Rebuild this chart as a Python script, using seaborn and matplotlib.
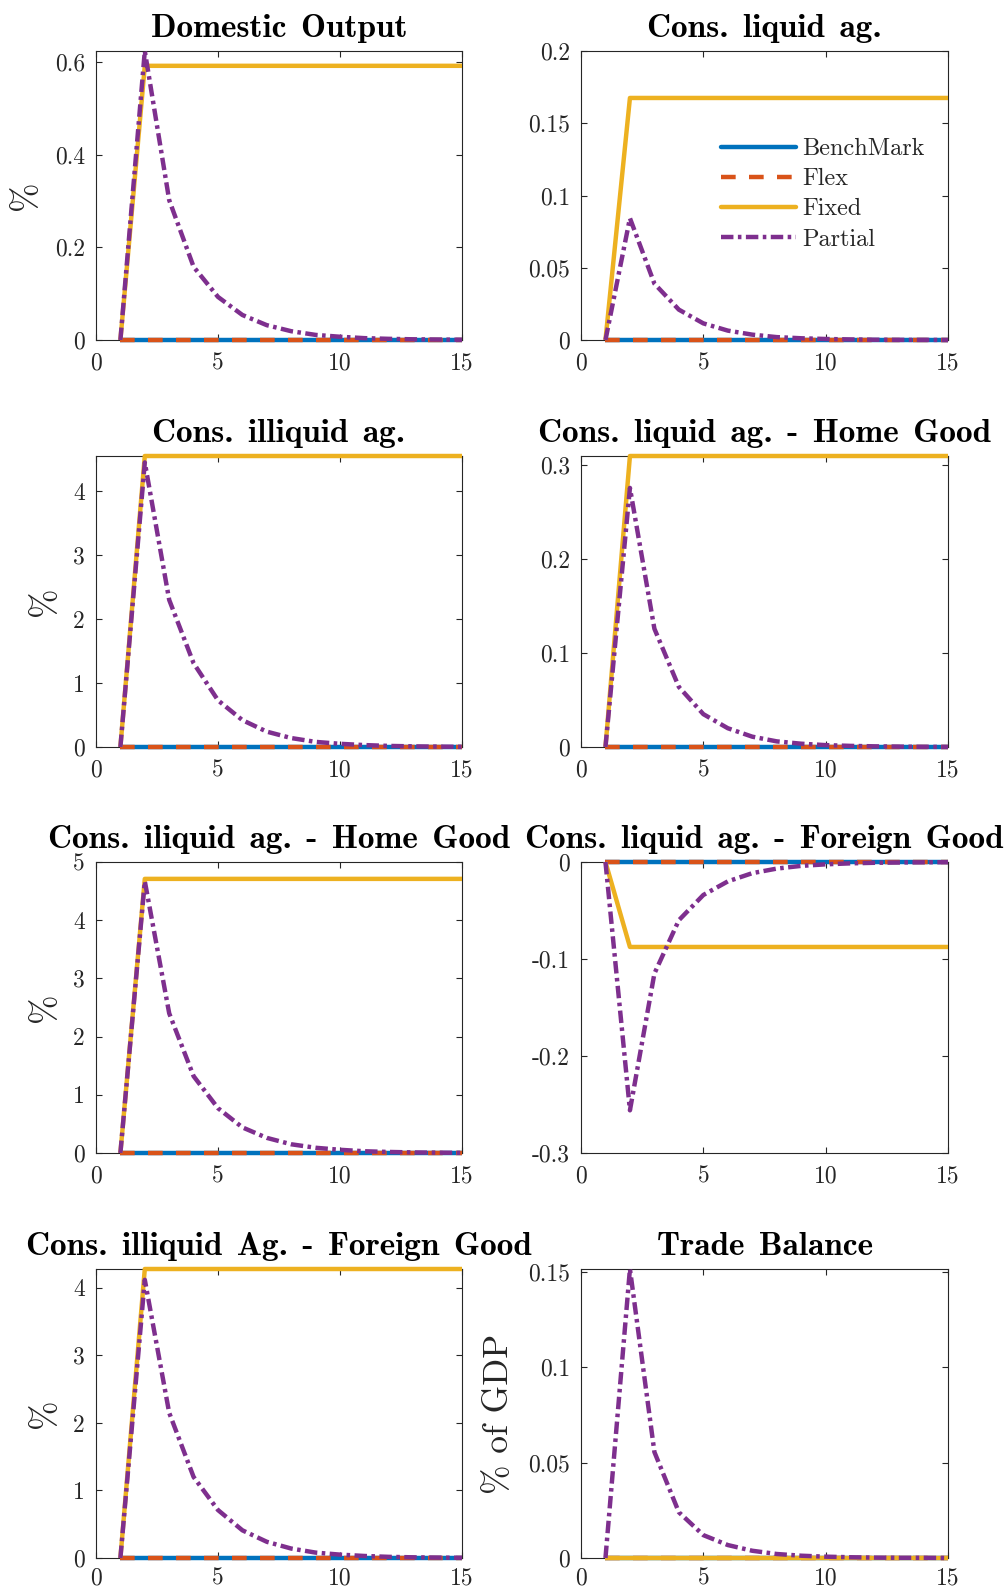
import numpy as np
import pandas as pd
import matplotlib
matplotlib.use("Agg")
import matplotlib.pyplot as plt
import seaborn as sns
from matplotlib.ticker import FixedLocator, FuncFormatter
from matplotlib.lines import Line2D

# ---------------- data ----------------
periods = list(range(1, 16))
series_names = ["BenchMark", "Flex", "Fixed", "Partial"]

titles = [
    "Domestic Output",
    "Cons. liquid ag.",
    "Cons. illiquid ag.",
    "Cons. liquid ag. - Home Good",
    "Cons. iliquid ag. - Home Good",
    "Cons. liquid ag. - Foreign Good",
    "Cons. illiquid Ag. - Foreign Good",
    "Trade Balance",
]
ylabels = ["%", "", "%", "", "%", "", "%", "% of GDP"]

benchmark = [0.0, 0.0, 0.0, 0.0, 0.0, 0.0, 0.0, 0.0, 0.0, 0.0, 0.0, 0.0, 0.0, 0.0, 0.0]
flex = [0.0, 0.0, 0.0, 0.0, 0.0, 0.0, 0.0, 0.0, 0.0, 0.0, 0.0, 0.0, 0.0, 0.0, 0.0]

fixed_output = [0.0, 0.592, 0.592, 0.592, 0.592, 0.592, 0.592, 0.592, 0.592, 0.592, 0.592, 0.592, 0.592, 0.592, 0.592]
partial_output = [0.0, 0.624, 0.302, 0.158, 0.093, 0.054, 0.032, 0.019, 0.011, 0.007, 0.004, 0.0025, 0.0015, 0.001, 0.0005]

fixed_liq = [0.0, 0.1675, 0.1675, 0.1675, 0.1675, 0.1675, 0.1675, 0.1675, 0.1675, 0.1675, 0.1675, 0.1675, 0.1675, 0.1675, 0.1675]
partial_liq = [0.0, 0.0843, 0.039, 0.021, 0.0115, 0.0065, 0.0037, 0.002, 0.0012, 0.0007, 0.0004, 0.0002, 0.0001, 0.0001, 0.0]

fixed_illiq = [0.0, 4.55, 4.55, 4.55, 4.55, 4.55, 4.55, 4.55, 4.55, 4.55, 4.55, 4.55, 4.55, 4.55, 4.55]
partial_illiq = [0.0, 4.45, 2.3, 1.31, 0.73, 0.42, 0.24, 0.14, 0.08, 0.05, 0.03, 0.017, 0.01, 0.006, 0.003]

fixed_liq_home = [0.0, 0.31, 0.31, 0.31, 0.31, 0.31, 0.31, 0.31, 0.31, 0.31, 0.31, 0.31, 0.31, 0.31, 0.31]
partial_liq_home = [0.0, 0.276, 0.126, 0.064, 0.035, 0.02, 0.011, 0.006, 0.0035, 0.002, 0.0012, 0.0007, 0.0004, 0.0002, 0.0001]

fixed_illiq_home = [0.0, 4.71, 4.71, 4.71, 4.71, 4.71, 4.71, 4.71, 4.71, 4.71, 4.71, 4.71, 4.71, 4.71, 4.71]
partial_illiq_home = [0.0, 4.67, 2.4, 1.32, 0.77, 0.44, 0.26, 0.15, 0.09, 0.055, 0.03, 0.018, 0.01, 0.006, 0.003]

fixed_liq_for = [0.0, -0.0876, -0.0876, -0.0876, -0.0876, -0.0876, -0.0876, -0.0876, -0.0876, -0.0876, -0.0876, -0.0876, -0.0876, -0.0876, -0.0876]
partial_liq_for = [0.0, -0.256, -0.115, -0.06, -0.034, -0.02, -0.0115, -0.0068, -0.004, -0.0024, -0.0014, -0.0008, -0.0005, -0.0003, -0.0002]

fixed_illiq_for = [0.0, 4.28, 4.28, 4.28, 4.28, 4.28, 4.28, 4.28, 4.28, 4.28, 4.28, 4.28, 4.28, 4.28, 4.28]
partial_illiq_for = [0.0, 4.12, 2.15, 1.2, 0.71, 0.41, 0.24, 0.14, 0.08, 0.05, 0.03, 0.017, 0.01, 0.006, 0.003]

fixed_tb = [0.0, 0.0, 0.0, 0.0, 0.0, 0.0, 0.0, 0.0, 0.0, 0.0, 0.0, 0.0, 0.0, 0.0, 0.0]
partial_tb = [0.0, 0.1516, 0.0556, 0.024, 0.012, 0.0068, 0.0038, 0.0021, 0.0012, 0.0007, 0.0004, 0.0002, 0.0001, 0.0001, 0.0]

fixed_all = [fixed_output, fixed_liq, fixed_illiq, fixed_liq_home,
             fixed_illiq_home, fixed_liq_for, fixed_illiq_for, fixed_tb]
partial_all = [partial_output, partial_liq, partial_illiq, partial_liq_home,
               partial_illiq_home, partial_liq_for, partial_illiq_for, partial_tb]

yticks_all = [
    [0, 0.2, 0.4, 0.6],
    [0, 0.05, 0.1, 0.15, 0.2],
    [0, 1, 2, 3, 4],
    [0, 0.1, 0.2, 0.3],
    [0, 1, 2, 3, 4, 5],
    [-0.3, -0.2, -0.1, 0],
    [0, 1, 2, 3, 4],
    [0, 0.05, 0.1, 0.15],
]
ylims_all = [
    (0, 0.624), (0, 0.2), (0, 4.55), (0, 0.31),
    (0, 5), (-0.3, 0), (0, 4.28), (0, 0.1516),
]
xticks = [0, 5, 10, 15]

# ---------------- style ----------------
sns.set_theme(style="ticks")
plt.rcParams["font.family"] = ["cmr10", "DejaVu Serif"]
plt.rcParams["axes.unicode_minus"] = False
plt.rcParams["axes.formatter.use_mathtext"] = True

colors = {"BenchMark": "#0072BD", "Flex": "#D95319", "Fixed": "#EDB120", "Partial": "#7E2F8E"}
styles = {"BenchMark": "-", "Flex": (0, (3.3, 3.0)), "Fixed": "-", "Partial": (0, (2.8, 1.0, 0.8, 1.0))}
LW = 3.2
AXC = "#262626"

W, H = 1005, 1589
fig = plt.figure(figsize=(W / 100, H / 100), dpi=100)

col_x = [(96, 462), (581, 948)]
row_y = [(51, 340), (456, 747), (862, 1153), (1269, 1558)]

fmt = FuncFormatter(lambda v, p: ("%g" % round(v, 6)))

for i in range(8):
    r, c = divmod(i, 2)
    x0, x1 = col_x[c]
    y0, y1 = row_y[r]
    ax = fig.add_axes([x0 / W, 1 - y1 / H, (x1 - x0) / W, (y1 - y0) / H])
    vals = {"BenchMark": benchmark, "Flex": flex, "Fixed": fixed_all[i], "Partial": partial_all[i]}
    for name in series_names:
        sns.lineplot(x=periods, y=vals[name], ax=ax, color=colors[name],
                     linestyle=styles[name], linewidth=LW, estimator=None,
                     solid_capstyle="butt", dash_capstyle="butt", legend=False,
                     clip_on=False, zorder=3)
    ax.set_xlim(0, 15)
    ax.set_ylim(*ylims_all[i])
    ax.xaxis.set_major_locator(FixedLocator(xticks))
    ax.yaxis.set_major_locator(FixedLocator(yticks_all[i]))
    ax.xaxis.set_major_formatter(fmt)
    ax.yaxis.set_major_formatter(fmt)
    ax.tick_params(direction="in", length=4, width=0.8, colors=AXC,
                   labelsize=17, top=True, right=True)
    ax.tick_params(axis="x", pad=9 if r < 3 else 7)
    ax.tick_params(axis="y", pad=8)
    for s in ax.spines.values():
        s.set_color(AXC)
        s.set_linewidth(0.8)
        s.set_visible(True)
        s.set_zorder(1)
    ax.set_xlabel("")
    if ylabels[i]:
        ax.set_ylabel(ylabels[i], fontsize=25.5, color=AXC, labelpad=9)
    else:
        ax.set_ylabel("")
    # slightly wider inter-word spacing, as in the LaTeX-rendered original
    ax.set_title(titles[i].replace(" ", " \u200a"), fontfamily=["cmb10", "DejaVu Serif"],
                 fontsize=24, color="black", pad=10)

    if i == 1:
        handles = [Line2D([0], [0], color=colors[n], linestyle=styles[n], linewidth=LW)
                   for n in series_names]
        ax.legend(handles, series_names, loc="upper left",
                  bbox_to_anchor=(721 / W, 1 - 138 / H), bbox_transform=fig.transFigure,
                  frameon=False, fontsize=17.5, handlelength=3.1, handletextpad=0.25,
                  labelspacing=0.33, borderpad=0, borderaxespad=0)

fig.savefig("out.png", dpi=100, facecolor="white")
